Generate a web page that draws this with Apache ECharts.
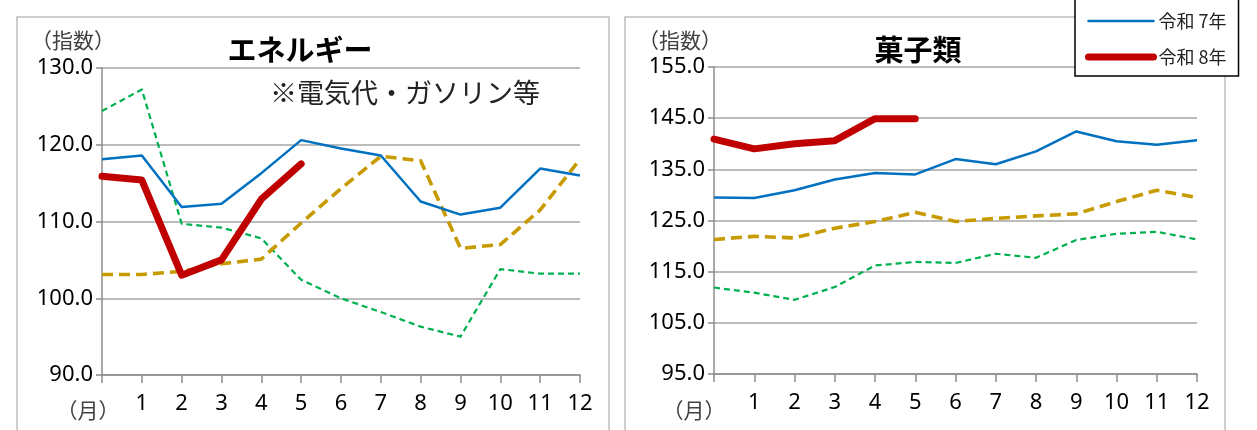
<!DOCTYPE html>
<html>
<head>
<meta charset="utf-8">
<script src="https://cdn.jsdelivr.net/npm/echarts@6/dist/echarts.min.js"></script>
<style>
html,body{margin:0;padding:0;background:#fff;}
#c{width:1257px;height:430px;}
</style>
</head>
<body>
<div id="c"></div>
<script>
// ---- data ----
const months = [0,1,2,3,4,5,6,7,8,9,10,11,12];
const monthLabels = ['', '1','2','3','4','5','6','7','8','9','10','11','12'];
const seriesNames = ['令和 5年','令和 6年','令和 7年','令和 8年'];
const legendNames = ['令和 7年','令和 8年'];

const energyTitle = 'エネルギー';
const energyNote = '※電気代・ガソリン等';
const energyR5 = [124.4,127.2,109.7,109.2,107.8,102.4,100.0,98.2,96.3,95.0,103.8,103.2,103.2];
const energyR6 = [103.1,103.1,103.5,104.5,105.1,109.8,114.3,118.5,117.9,106.5,107.0,111.5,118.1];
const energyR7 = [118.1,118.6,111.9,112.3,116.3,120.6,119.5,118.6,112.6,110.9,111.8,116.9,116.0];
const energyR8 = [115.9,115.4,103.0,105.0,112.9,117.5];
const energyTicks = {min:90, max:130, interval:10};

const sweetsTitle = '菓子類';
const sweetsR5 = [111.9,110.9,109.5,112.0,116.2,116.9,116.7,118.5,117.7,121.2,122.4,122.8,121.3];
const sweetsR6 = [121.3,121.9,121.6,123.5,124.8,126.6,124.8,125.4,125.9,126.3,128.7,130.9,129.5];
const sweetsR7 = [129.5,129.4,130.9,133.0,134.3,134.0,137.0,136.0,138.5,142.4,140.5,139.8,140.7];
const sweetsR8 = [140.9,139.0,140.0,140.6,144.9,144.9];
const sweetsTicks = {min:95, max:155, interval:10};

const yUnit = '（指数）';
const xUnit = '（月）';

// ---- build ----
const FONT = '"Noto Sans", "Noto Sans CJK JP", sans-serif';
const JFONT = '"Noto Sans CJK JP", "Noto Sans", sans-serif';
function pts(arr){ return arr.map((v,i)=>[months[i], v]); }

const styles = [
  {color:'#00B050', width:2.2, type:[6,4], cap:'butt'},
  {color:'#C79A00', width:3.6, type:[11,6], cap:'butt'},
  {color:'#0070C0', width:2.5, type:'solid', cap:'butt'},
  {color:'#C00000', width:7, type:'solid', cap:'round'}
];

function makeSeries(gi, arrs){
  return arrs.map((a,k)=>({
    name: seriesNames[k],
    type:'line',
    xAxisIndex: gi, yAxisIndex: gi,
    data: pts(a),
    symbol:'none',
    smooth:false,
    silent:true,
    z: 2+k,
    itemStyle:{color: styles[k].color},
    lineStyle:{color: styles[k].color, width: styles[k].width, type: styles[k].type, cap: styles[k].cap, join:'round'}
  }));
}

function xAxis(gi){
  return {
    type:'value', gridIndex: gi, min:0, max:12, interval:1,
    axisLine:{show:true, lineStyle:{color:'#8c8c8c', width:1.5}},
    axisTick:{show:true, length:8, lineStyle:{color:'#8c8c8c', width:1.5}},
    splitLine:{show:false},
    axisLabel:{show:true, margin:18, fontSize:22, color:'#000', fontFamily:FONT,
      formatter:(v)=>monthLabels[Math.round(v)] || ''}
  };
}
function yAxis(gi, t){
  return {
    type:'value', gridIndex: gi, min:t.min, max:t.max, interval:t.interval,
    axisLine:{show:true, lineStyle:{color:'#8c8c8c', width:1.5}},
    axisTick:{show:true, length:6, lineStyle:{color:'#8c8c8c', width:1.5}},
    splitLine:{show:true, lineStyle:{color:'#a6a6a6', width:1.5}},
    axisLabel:{show:true, margin:9, fontSize:22, color:'#000', fontFamily:FONT,
      formatter:(v)=>v.toFixed(1)}
  };
}

const chart = echarts.init(document.getElementById('c'), null, {renderer:'canvas'});
chart.setOption({
  backgroundColor:'#fff',
  animation:false,
  grid:[
    {left:102, top:68, width:478, height:307},
    {left:714, top:67, width:483, height:307}
  ],
  xAxis:[xAxis(0), xAxis(1)],
  yAxis:[yAxis(0, energyTicks), yAxis(1, sweetsTicks)],
  legend:{
    data: legendNames,
    orient:'vertical',
    left:1075, top:-2,
    padding:[14,12,10,10],
    itemWidth:65, itemHeight:14, itemGap:18,
    backgroundColor:'#fff',
    borderColor:'#000', borderWidth:1.5,
    itemStyle:{opacity:0},
    lineStyle:{width:'inherit', cap:'round'},
    textStyle:{fontSize:18, color:'#222', fontFamily:JFONT},
    z:20
  },
  graphic:[
    {type:'rect', z:-1, silent:true, shape:{x:17, y:17, width:592, height:440}, style:{fill:'none', stroke:'#bfbfbf', lineWidth:1.5}},
    {type:'rect', z:-1, silent:true, shape:{x:625, y:17, width:600, height:440}, style:{fill:'none', stroke:'#bfbfbf', lineWidth:1.5}},
    {type:'text', silent:true, style:{x:300, y:50, text:energyTitle, align:'center', verticalAlign:'middle', font:'bold 29px '+JFONT, fill:'#000'}},
    {type:'text', silent:true, style:{x:405, y:93, text:energyNote, align:'center', verticalAlign:'middle', font:'27px '+JFONT, fill:'#222'}},
    {type:'text', silent:true, style:{x:918, y:50, text:sweetsTitle, align:'center', verticalAlign:'middle', font:'bold 29px '+JFONT, fill:'#000'}},
    {type:'text', silent:true, style:{x:73, y:40, text:yUnit, align:'center', verticalAlign:'middle', font:'21px '+JFONT, fill:'#404040'}},
    {type:'text', silent:true, style:{x:680, y:40, text:yUnit, align:'center', verticalAlign:'middle', font:'21px '+JFONT, fill:'#404040'}},
    {type:'text', silent:true, style:{x:88, y:410, text:xUnit, align:'center', verticalAlign:'middle', font:'21px '+JFONT, fill:'#404040'}},
    {type:'text', silent:true, style:{x:694, y:410, text:xUnit, align:'center', verticalAlign:'middle', font:'21px '+JFONT, fill:'#404040'}}
  ],
  series: [].concat(
    makeSeries(0, [energyR5, energyR6, energyR7, energyR8]),
    makeSeries(1, [sweetsR5, sweetsR6, sweetsR7, sweetsR8])
  )
});
</script>
</body>
</html>
